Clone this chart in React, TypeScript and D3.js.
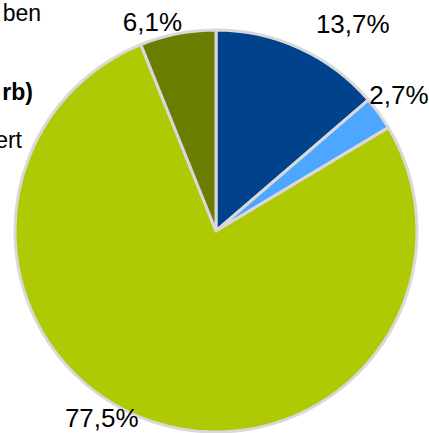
import { useEffect, useRef } from 'react';
import * as d3 from 'd3';

// slice data, clockwise from 12 o'clock
const labels = ['13,7%', '2,7%', '77,5%', '6,1%'];
const values = [13.7, 2.7, 77.5, 6.1];
const colors = ['#00428c', '#4da6ff', '#b0c905', '#6b7d00'];
// label placement tweaks (extra radius, angle nudge in degrees)
const labelRadius = [248, 228, 219, 219];
const labelShift = [8.8, -0.8, 12.9, -5.9];

// legend text cut off at the left edge
const legendTexts = ['ben', 'rb)', 'ert'];
const legendBold = [false, true, false];

export default function App() {
  const svgRef = useRef<SVGSVGElement>(null);

  useEffect(() => {
    const width = 429;
    const height = 433;
    const cx = 216;
    const cy = 231;
    const radius = 201;

    const svg = d3.select(svgRef.current);
    svg.selectAll('*').remove();

    // partially hidden legend
    const legendY = [21, 100, 148];
    const legendEnd = [41, 33, 22];
    svg.append('g')
      .selectAll('text')
      .data(legendTexts)
      .join('text')
      .attr('x', (d, i) => legendEnd[i])
      .attr('y', (d, i) => legendY[i])
      .attr('text-anchor', 'end')
      .attr('font-family', "'Liberation Sans', Arial, sans-serif")
      .attr('font-size', '23px')
      .attr('font-weight', (d, i) => (legendBold[i] ? 'bold' : 'normal'))
      .attr('fill', '#000')
      .text(d => d);

    const pie = d3.pie<number>().sort(null).value(d => d);
    const arcs = pie(values);
    const arc = d3.arc<d3.PieArcDatum<number>>().innerRadius(0).outerRadius(radius);

    const g = svg.append('g').attr('transform', `translate(${cx},${cy})`);

    g.selectAll('path')
      .data(arcs)
      .join('path')
      .attr('d', arc)
      .attr('fill', (d, i) => colors[i])
      .attr('stroke', '#d9d9d9')
      .attr('stroke-width', 3)
      .attr('stroke-linejoin', 'round');

    g.selectAll('text')
      .data(arcs)
      .join('text')
      .attr('transform', (d, i) => {
        const a = (d.startAngle + d.endAngle) / 2 + (labelShift[i] * Math.PI) / 180;
        const r = labelRadius[i];
        return `translate(${r * Math.sin(a)},${-r * Math.cos(a)})`;
      })
      .attr('dy', '0.36em')
      .attr('text-anchor', 'middle')
      .attr('font-family', "'Liberation Sans', Arial, sans-serif")
      .attr('font-size', '26px')
      .attr('fill', '#000')
      .text((d, i) => labels[i]);

    svg.attr('width', width).attr('height', height);
  }, []);

  return (
    <svg
      ref={svgRef}
      width={429}
      height={433}
      style={{ position: 'absolute', left: 0, top: 0, background: '#fff' }}
    />
  );
}
